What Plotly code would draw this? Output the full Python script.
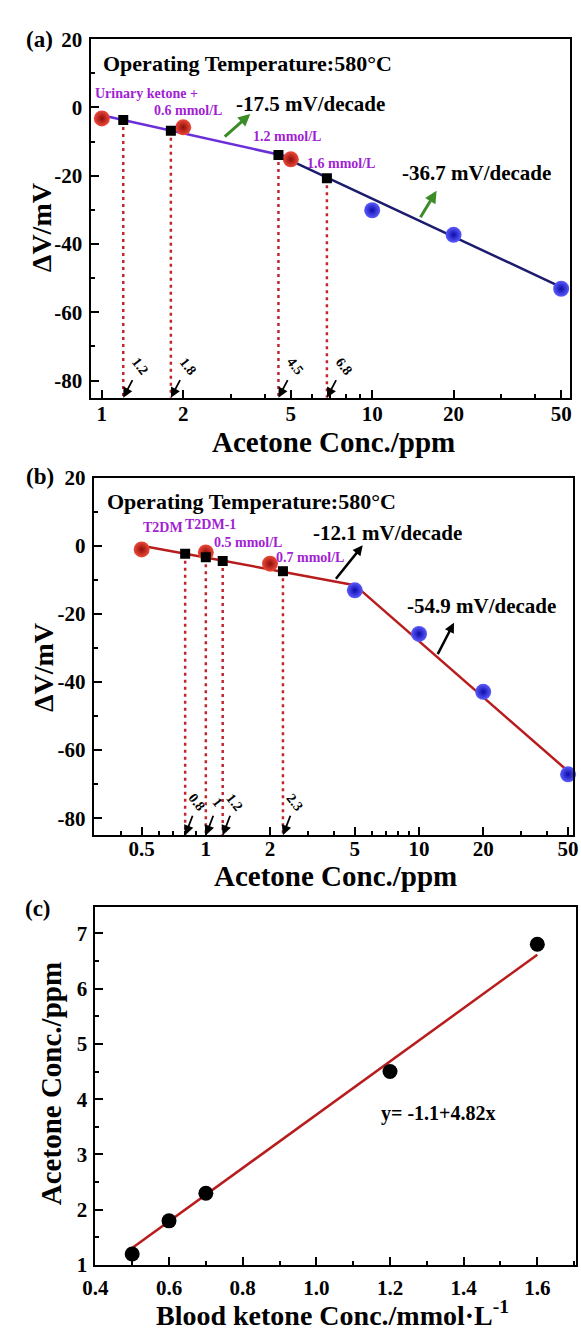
import numpy as np
import plotly.graph_objects as go

W, H = 581, 1339
FONT = "Liberation Serif"

# ---------------- data: panel (a) ----------------
a_red_x = [1, 2, 5]
a_red_y = [-3.2, -5.8, -15.2]
a_blue_x = [10, 20, 50]
a_blue_y = [-30.1, -37.3, -53.1]
a_sq_x = [1.2, 1.8, 4.5, 6.8]
a_sq_y = [-3.7, -6.8, -13.9, -20.7]
a_fit1_x = [1, 5]
a_fit1_y = [-2.3, -14.6]
a_fit2_x = [5, 50]
a_fit2_y = [-15.6, -52.6]
a_drop_labels = ["1.2", "1.8", "4.5", "6.8"]

# ---------------- data: panel (b) ----------------
b_red_x = [0.5, 1, 2]
b_red_y = [-1.1, -2.0, -5.3]
b_blue_x = [5, 10, 20, 50]
b_blue_y = [-13.1, -25.9, -42.9, -67.1]
b_sq_x = [0.8, 1, 1.2, 2.3]
b_sq_y = [-2.4, -3.4, -4.5, -7.5]
b_fit1_x = [0.5, 5]
b_fit1_y = [0.0, -11.6]
b_fit2_x = [5, 50]
b_fit2_y = [-11.6, -66.2]
b_drop_labels = ["0.8", "1", "1.2", "2.3"]

# ---------------- data: panel (c) ----------------
c_x = [0.5, 0.6, 0.7, 1.2, 1.6]
c_y = [1.2, 1.8, 2.3, 4.5, 6.8]
c_fit_x = [0.5, 1.6]
c_fit_y = [1.31, 6.61]

# tick labels
log_ticks_a = [1, 2, 5, 10, 20, 50]
log_ticks_b = [0.5, 1, 2, 5, 10, 20, 50]
log_minor = [0.3, 0.4, 0.6, 0.7, 0.8, 0.9, 3, 4, 6, 7, 8, 9, 30, 40]
dv_ticks = [20, 0, -20, -40, -60, -80]
dv_ticktext = ["20", "0", "-20", "-40", "-60", "-80"]
c_xticks = [0.4, 0.6, 0.8, 1.0, 1.2, 1.4, 1.6]
c_xticktext = ["0.4", "0.6", "0.8", "1.0", "1.2", "1.4", "1.6"]
c_yticks = [1, 2, 3, 4, 5, 6, 7]

YMIN, YMAX = -85, 20


def px_y(p):
    return 1 - p / H


def px_x(p):
    return p / W


def drop_lines(xs, ys, ybottom):
    X, Y = [], []
    for x, y in zip(xs, ys):
        X += [x, x, None]
        Y += [y, ybottom, None]
    return X, Y


RED_SPHERE = dict(color="#ee4a3a", size=16, gradient=dict(type="radial", color="#8e0d08"), line=dict(width=0))
BLUE_SPHERE = dict(color="#5c5cff", size=16, gradient=dict(type="radial", color="#0c0ca8"), line=dict(width=0))
SQUARE = dict(color="black", size=10, symbol="square", line=dict(width=0))

fig = go.Figure()

def add_panel(xa, ya, red_x, red_y, blue_x, blue_y, sq_x, sq_y, f1x, f1y, f2x, f2y, c1, c2):
    dx, dy = drop_lines(sq_x, sq_y, YMIN)
    fig.add_trace(go.Scatter(x=dx, y=dy, mode="lines", xaxis=xa, yaxis=ya,
                             line=dict(color="#c0272d", width=2.5, dash="3px,4px"), showlegend=False))
    fig.add_trace(go.Scatter(x=f1x, y=f1y, mode="lines", xaxis=xa, yaxis=ya,
                             line=dict(color=c1, width=2.5), showlegend=False))
    fig.add_trace(go.Scatter(x=f2x, y=f2y, mode="lines", xaxis=xa, yaxis=ya,
                             line=dict(color=c2, width=2.5), showlegend=False))
    fig.add_trace(go.Scatter(x=red_x, y=red_y, mode="markers", xaxis=xa, yaxis=ya,
                             marker=RED_SPHERE, showlegend=False, cliponaxis=False))
    fig.add_trace(go.Scatter(x=blue_x, y=blue_y, mode="markers", xaxis=xa, yaxis=ya,
                             marker=BLUE_SPHERE, showlegend=False, cliponaxis=False))
    fig.add_trace(go.Scatter(x=sq_x, y=sq_y, mode="markers", xaxis=xa, yaxis=ya,
                             marker=SQUARE, showlegend=False))

add_panel("x", "y", a_red_x, a_red_y, a_blue_x, a_blue_y, a_sq_x, a_sq_y,
          a_fit1_x, a_fit1_y, a_fit2_x, a_fit2_y, "#6a2fd8", "#1c1c6e")
add_panel("x2", "y2", b_red_x, b_red_y, b_blue_x, b_blue_y, b_sq_x, b_sq_y,
          b_fit1_x, b_fit1_y, b_fit2_x, b_fit2_y, "#b81c1c", "#b81c1c")

fig.add_trace(go.Scatter(x=c_fit_x, y=c_fit_y, mode="lines", xaxis="x3", yaxis="y3",
                         line=dict(color="#b81c1c", width=2.5), showlegend=False))
fig.add_trace(go.Scatter(x=c_x, y=c_y, mode="markers", xaxis="x3", yaxis="y3",
                         marker=dict(color="black", size=15, line=dict(width=0)), showlegend=False))

tickfont = dict(family=FONT, size=21, color="black", weight="bold")
axis_common = dict(showline=True, linecolor="black", linewidth=2, mirror=True, showgrid=False,
                   zeroline=False, ticks="inside", ticklen=8, tickwidth=2, tickcolor="black",
                   tickfont=tickfont, ticklabeloverflow="allow")

def log_axis(dom, rng, ticks, anchor, standoff):
    return dict(axis_common, type="log", domain=dom, range=rng,
                tickmode="array", tickvals=ticks, ticktext=[str(t) for t in ticks], anchor=anchor,
                ticklabelstandoff=standoff,
                minor=dict(tickmode="array", tickvals=log_minor, ticks="inside", ticklen=4,
                           tickwidth=1.5, tickcolor="black", showgrid=False))

def dv_axis(dom, anchor):
    return dict(axis_common, domain=dom, range=[YMIN, YMAX], tickmode="array", tickvals=dv_ticks,
                ticktext=dv_ticktext, anchor=anchor, ticklabelstandoff=2,
                minor=dict(dtick=10, ticks="inside", ticklen=4, tickwidth=1.5, tickcolor="black",
                           showgrid=False))

fig.update_layout(
    width=W, height=H, autosize=False,
    margin=dict(l=0, r=0, t=0, b=0),
    paper_bgcolor="white", plot_bgcolor="white",
    font=dict(family=FONT, color="black"),
    xaxis=log_axis([px_x(80), px_x(575)], [np.log10(0.908), np.log10(54)], log_ticks_a, "y", -4),
    yaxis=dv_axis([px_y(392.7), px_y(27.7)], "x"),
    xaxis2=log_axis([px_x(83.3), px_x(578)], [np.log10(0.298), np.log10(52.8)], log_ticks_b, "y2", -6),
    yaxis2=dv_axis([px_y(838.3), px_y(474)], "x2"),
    xaxis3=dict(axis_common, domain=[px_x(85), 1.0], range=[0.4, 1.705], tickmode="array",
                tickvals=c_xticks, ticktext=c_xticktext, anchor="y3", ticklabelstandoff=3,
                minor=dict(dtick=0.1, ticks="inside", ticklen=4, tickwidth=1.5, tickcolor="black",
                           showgrid=False)),
    yaxis3=dict(axis_common, domain=[px_y(1276), px_y(911)], range=[1, 7.48], tickmode="array",
                tickvals=c_yticks, ticktext=[str(t) for t in c_yticks], anchor="x3",
                ticklabelstandoff=2,
                minor=dict(dtick=0.5, ticks="inside", ticklen=4, tickwidth=1.5, tickcolor="black",
                           showgrid=False)),
)

ann = []
PURPLE = "#a21fd4"
GREEN = "#3c8c28"

def txt(text, x, y, xref, yref, size, color="black", bold=True, xanchor="center", yanchor="middle", angle=0):
    ann.append(dict(text=text, x=x, y=y, xref=xref, yref=yref, showarrow=False,
                    xanchor=xanchor, yanchor=yanchor, textangle=angle,
                    font=dict(family=FONT, size=size, color=color, weight="bold" if bold else "normal")))

def arrow(x, y, xref, yref, ax, ay, color="black", width=1.5, head=2, size=1.0):
    ann.append(dict(text="", x=x, y=y, xref=xref, yref=yref, showarrow=True, ax=ax, ay=ay,
                    arrowhead=head, arrowsize=size, arrowwidth=width, arrowcolor=color, standoff=0))

# panel labels & axis titles (paper coords)
txt("(a)", px_x(27), px_y(28), "paper", "paper", 23)
txt("(b)", px_x(28), px_y(473), "paper", "paper", 23)
txt("(c)", px_x(26), px_y(913), "paper", "paper", 23)
txt("ΔV/mV", px_x(29), px_y(220), "paper", "paper", 28, angle=-90)
txt("ΔV/mV", px_x(31), px_y(668), "paper", "paper", 28, angle=-90)
txt("Acetone Conc./ppm", px_x(40), px_y(1091), "paper", "paper", 29, angle=-90)
txt("Acetone Conc./ppm", px_x(331), px_y(438), "paper", "paper", 29)
txt("Acetone Conc./ppm", px_x(333), px_y(880), "paper", "paper", 29)
txt("Blood ketone Conc./mmol·L<sup>-1</sup>", px_x(330), px_y(1325), "paper", "paper", 28)

# panel (a) in-plot text
txt("Operating Temperature:580°C", -0.005, 13, "x", "y", 22, xanchor="left")
txt("Urinary ketone +", 0.166, 4.1, "x", "y", 14, PURPLE)
txt("0.6 mmol/L", 0.32, -0.8, "x", "y", 14, PURPLE)
txt("1.2 mmol/L", 0.686, -8.6, "x", "y", 14, PURPLE)
txt("1.6 mmol/L", 0.885, -16.3, "x", "y", 14, PURPLE)
txt("-17.5 mV/decade", 0.77, 0.95, "x", "y", 21)
txt("-36.7 mV/decade", 1.385, -19.2, "x", "y", 21)
arrow(0.549, -1.9, "x", "y", -27, 24, GREEN, 3, 2, 0.8)
arrow(1.238, -24.4, "x", "y", -17, 28, GREEN, 3, 2, 0.8)
for v, lab in zip(a_sq_x, a_drop_labels):
    arrow(np.log10(v), YMIN, "x", "y", 10, -19, "black", 1.8, 2, 1.1)
    txt(lab, np.log10(v), YMIN, "x", "y", 14, xanchor="center", angle=52)
    ann[-1].update(xshift=17, yshift=31)

# panel (b) in-plot text
txt("Operating Temperature:580°C", -0.473, 13, "x2", "y2", 22, xanchor="left")
txt("T2DM", -0.2, 5.3, "x2", "y2", 14, PURPLE)
txt("T2DM-1", 0.023, 6.2, "x2", "y2", 14, PURPLE)
txt("0.5 mmol/L", 0.198, 0.95, "x2", "y2", 14, PURPLE)
txt("0.7 mmol/L", 0.491, -3.4, "x2", "y2", 14, PURPLE)
txt("-12.1 mV/decade", 0.85, 3.8, "x2", "y2", 21)
txt("-54.9 mV/decade", 1.295, -17.7, "x2", "y2", 21)
arrow(0.736, 0.1, "x2", "y2", -28, 35, "black", 2.5, 2, 0.8)
arrow(1.164, -22.6, "x2", "y2", -17, 33, "black", 2.5, 2, 0.8)
for v, lab in zip(b_sq_x, b_drop_labels):
    arrow(np.log10(v), YMIN, "x2", "y2", 8, -21, "black", 1.8, 2, 1.1)
    txt(lab, np.log10(v), YMIN, "x2", "y2", 14, xanchor="center", angle=52)
    ann[-1].update(xshift=12, yshift=33)

# panel (c)
txt("y= -1.1+4.82x", 1.329, 3.74, "x3", "y3", 20)

fig.update_layout(annotations=ann)
fig.write_html("out.html")
